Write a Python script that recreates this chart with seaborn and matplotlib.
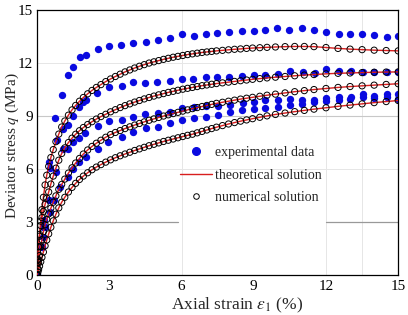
import numpy as np
import pandas as pd
import matplotlib
matplotlib.use("Agg")
import matplotlib.pyplot as plt
from matplotlib.lines import Line2D
import seaborn as sns

# ---------------- data ----------------
# experimental data (4 tests)
e1_x = [0, 0.2, 0.3, 0.51, 0.76, 1.02, 1.27, 1.51, 1.77, 2.04, 2.52, 3.0, 3.5, 4.0, 4.53, 5.04, 5.53, 6.01,
        6.52, 7.02, 7.49, 7.99, 8.53, 8.99, 9.47, 9.98, 10.48, 11.02, 11.5, 11.99, 12.52, 13.0, 13.51, 14.0, 14.53, 14.98]
e1_y = [0, 1.6, 3.1, 6.41, 8.87, 10.2, 11.3, 11.77, 12.34, 12.45, 12.8, 12.94, 13.0, 13.13, 13.22, 13.3, 13.41, 13.62,
        13.53, 13.66, 13.73, 13.77, 13.83, 13.83, 13.87, 13.96, 13.87, 13.96, 13.85, 13.75, 13.66, 13.62, 13.66, 13.57, 13.47, 13.53]

e2_x = [0, 0.26, 0.54, 0.82, 1.09, 1.3, 1.51, 1.75, 1.92, 2.04, 2.48, 3.0, 3.52, 4.0, 4.49, 5.0, 5.53, 6.01,
        6.49, 7.02, 7.49, 7.99, 8.5, 8.99, 9.47, 10.0, 10.51, 11.06, 11.55, 12.0, 12.52, 13.03, 13.53, 14.01, 14.53, 14.98]
e2_y = [0, 2.7, 6.04, 7.64, 8.24, 8.5, 9.0, 9.5, 9.8, 9.9, 10.28, 10.62, 10.7, 10.9, 10.88, 10.92, 11.0, 11.09,
        11.09, 11.19, 11.19, 11.22, 11.26, 11.32, 11.32, 11.4, 11.56, 11.47, 11.45, 11.64, 11.56, 11.56, 11.5, 11.5, 11.47, 11.5]

e3_x = [0, 0.26, 0.51, 0.79, 1.07, 1.27, 1.48, 1.76, 1.97, 2.52, 3.0, 3.52, 4.0, 4.5, 5.04, 5.53, 6.01, 6.52,
        7.02, 7.5, 8.02, 8.55, 9.0, 9.47, 10.0, 10.51, 11.0, 11.5, 12.0, 12.52, 13.03, 13.53, 14.0, 14.53, 14.98]
e3_y = [0, 2.17, 4.24, 5.85, 7.11, 7.11, 7.54, 7.74, 8.02, 8.43, 8.7, 8.77, 8.96, 9.1, 9.19, 9.24, 9.43, 9.49,
        9.56, 9.56, 9.62, 9.72, 9.81, 9.9, 9.9, 9.94, 9.9, 9.9, 10.0, 10.06, 10.09, 10.24, 10.15, 10.24, 10.24]

e4_x = [0, 0.2, 0.33, 0.54, 0.72, 0.93, 1.27, 1.5, 1.76, 2.03, 2.52, 2.96, 3.52, 4.0, 4.53, 5.04, 5.53, 6.01,
        6.52, 7.02, 7.53, 8.02, 8.53, 9.0, 9.47, 10.02, 10.5, 11.0, 11.5, 11.99, 12.52, 13.0, 13.53, 14.0, 14.53, 14.98]
e4_y = [0, 1.57, 2.7, 3.58, 4.24, 4.96, 5.53, 6.0, 6.41, 6.7, 7.15, 7.54, 7.83, 8.11, 8.3, 8.39, 8.58, 8.77,
        8.87, 8.96, 9.06, 9.24, 9.34, 9.38, 9.43, 9.49, 9.6, 9.7, 9.81, 9.86, 9.9, 9.95, 10.06, 10.0, 10.06, 9.94]

# strain values of theoretical / numerical solution
strain = [0, 0.03, 0.06, 0.1, 0.15, 0.2, 0.26, 0.33, 0.4, 0.48, 0.57, 0.67, 0.78, 0.9, 1.02, 1.15, 1.3, 1.45,
          1.6, 1.76, 1.92, 2.1, 2.28, 2.46, 2.65, 2.85, 3.05, 3.25, 3.45, 3.65, 3.85, 4.05, 4.25, 4.45, 4.65,
          4.85, 5.05, 5.25, 5.45, 5.65, 5.85, 6.05, 6.25, 6.45, 6.65, 6.85, 7.05, 7.25, 7.45, 7.7, 7.95, 8.2,
          8.45, 8.7, 8.95, 9.25, 9.55, 9.9, 10.3, 10.7, 11.1, 11.5, 12.0, 12.5, 13.0, 13.5, 14.0, 14.5, 15.0]

sol_a = [0, 0.9, 1.6, 2.3, 3.05, 3.7, 4.4, 5.1, 5.65, 6.15, 6.65, 7.1, 7.55, 7.98, 8.38, 8.72, 9.05, 9.35,
         9.6, 9.84, 10.05, 10.26, 10.45, 10.62, 10.78, 10.95, 11.1, 11.24, 11.37, 11.5, 11.61, 11.72, 11.82, 11.91, 12.0,
         12.07, 12.14, 12.21, 12.27, 12.33, 12.38, 12.43, 12.48, 12.52, 12.56, 12.6, 12.63, 12.66, 12.69, 12.72, 12.75, 12.78,
         12.8, 12.83, 12.85, 12.87, 12.89, 12.91, 12.93, 12.94, 12.94, 12.93, 12.88, 12.83, 12.79, 12.76, 12.73, 12.71, 12.69]

sol_b = [0, 0.85, 1.6, 2.2, 2.8, 3.25, 3.6, 4.0, 4.35, 4.7, 5.15, 5.6, 6.05, 6.5, 6.88, 7.2, 7.5, 7.75,
         7.97, 8.17, 8.35, 8.52, 8.68, 8.83, 8.97, 9.1, 9.24, 9.36, 9.48, 9.59, 9.69, 9.79, 9.88, 9.97, 10.05,
         10.13, 10.2, 10.27, 10.34, 10.4, 10.46, 10.52, 10.57, 10.62, 10.67, 10.72, 10.76, 10.8, 10.84, 10.88, 10.92, 10.96,
         11.0, 11.04, 11.08, 11.12, 11.16, 11.2, 11.24, 11.28, 11.32, 11.35, 11.39, 11.42, 11.44, 11.46, 11.48, 11.49, 11.5]

sol_c = [0, 0.35, 0.7, 1.1, 1.6, 2.0, 2.45, 2.85, 3.15, 3.46, 3.78, 4.12, 4.48, 4.85, 5.13, 5.43, 5.77, 6.07,
         6.34, 6.6, 6.85, 7.08, 7.28, 7.46, 7.63, 7.8, 7.95, 8.07, 8.18, 8.29, 8.39, 8.49, 8.58, 8.67, 8.76,
         8.84, 8.92, 9.0, 9.07, 9.14, 9.21, 9.28, 9.35, 9.42, 9.48, 9.54, 9.6, 9.66, 9.72, 9.78, 9.84, 9.9,
         9.96, 10.01, 10.06, 10.12, 10.18, 10.24, 10.31, 10.38, 10.44, 10.5, 10.56, 10.62, 10.67, 10.71, 10.75, 10.79, 10.83]

sol_d = [0, 0.15, 0.3, 0.5, 0.75, 1.0, 1.3, 1.65, 1.98, 2.33, 2.7, 3.07, 3.44, 3.8, 4.12, 4.4, 4.7, 4.96,
         5.19, 5.41, 5.6, 5.79, 5.96, 6.11, 6.25, 6.39, 6.52, 6.64, 6.75, 6.85, 6.95, 7.05, 7.14, 7.23, 7.32,
         7.4, 7.48, 7.56, 7.63, 7.7, 7.77, 7.84, 7.91, 7.97, 8.05, 8.13, 8.21, 8.29, 8.37, 8.46, 8.55, 8.63,
         8.71, 8.78, 8.85, 8.93, 9.01, 9.09, 9.17, 9.25, 9.32, 9.39, 9.47, 9.55, 9.62, 9.69, 9.76, 9.82, 9.88]

x_ticks = [0, 3, 6, 9, 12, 15]
y_ticks = [0, 3, 6, 9, 12, 15]
legend_labels = ["experimental data", "theoretical solution", "numerical solution"]

# ---------------- tables ----------------
exp_df = pd.concat([
    pd.DataFrame({"strain": x, "q": y, "test": i})
    for i, (x, y) in enumerate([(e1_x, e1_y), (e2_x, e2_y), (e3_x, e3_y), (e4_x, e4_y)])
], ignore_index=True)

sol_df = pd.concat([
    pd.DataFrame({"strain": strain, "q": s, "test": i})
    for i, s in enumerate([sol_a, sol_b, sol_c, sol_d])
], ignore_index=True)

# ---------------- style ----------------
sns.set_style("white")
plt.rcParams["font.family"] = ["Liberation Serif", "DejaVu Serif"]
plt.rcParams["mathtext.fontset"] = "stix"

BLUE = "#0a0ae0"
RED = "#d81e1e"

fig = plt.figure(figsize=(4.08, 3.15), dpi=100)
ax = fig.add_axes([0.091, 0.127, 0.885, 0.841])

# grid-like lines
for v in [6, 12]:
    ax.axhline(v, color="#e6e6e6", lw=0.7, zorder=0)
for v in [6, 12, 13.5]:
    ax.axvline(v, color="#e6e6e6", lw=0.7, zorder=0)
ax.axhline(9, color="#c8c8c8", lw=0.8, zorder=0)
ax.axhline(3, xmin=0.04, xmax=0.39, color="#999999", lw=0.9, zorder=0)
ax.axhline(3, xmin=0.8, xmax=1.0, color="#999999", lw=0.9, zorder=0)

sns.scatterplot(data=exp_df, x="strain", y="q", color=BLUE, s=28, linewidth=0,
                ax=ax, zorder=2, legend=False)
sns.lineplot(data=sol_df, x="strain", y="q", units="test", estimator=None, sort=False,
             color=RED, lw=1.0, ax=ax, zorder=3, legend=False)
sns.scatterplot(data=sol_df, x="strain", y="q", marker="o", facecolor="none",
                edgecolor="black", linewidth=0.7, s=20, ax=ax, zorder=4, legend=False)

ax.set_xlim(0, 15)
ax.set_ylim(0, 15)
ax.set_xticks(x_ticks)
ax.set_yticks(y_ticks)
ax.set_xticks([1.5, 4.5, 7.5, 10.5, 13.5], minor=True)
ax.set_yticks([1.5, 4.5, 7.5, 10.5, 13.5], minor=True)
ax.tick_params(axis="both", which="both", direction="in", top=False, right=False,
               labelsize=11, colors="black")
ax.tick_params(axis="y", which="major", pad=3)
ax.tick_params(which="major", length=4, width=0.8)
ax.tick_params(which="minor", length=2.5, width=0.7)
for sp in ax.spines.values():
    sp.set_color("black")
    sp.set_linewidth(0.9)

ax.set_xlabel(r"Axial strain $\varepsilon_1$ (%)", fontsize=12.5)
ax.set_ylabel(r"Deviator stress $q$ (MPa)", fontsize=11)
ax.xaxis.set_label_coords(0.554, -0.078)
ax.yaxis.set_label_coords(-0.046, 0.49)

handles = [
    Line2D([], [], ls="", marker="o", color=BLUE, markersize=5.5),
    Line2D([], [], ls="-", color=RED, lw=1.0),
    Line2D([], [], ls="", marker="o", mfc="none", mec="black", mew=0.7, markersize=4),
]
ax.legend(handles, legend_labels, loc="center left", bbox_to_anchor=(0.37, 0.377),
          frameon=False, fontsize=10, handlelength=2.3, handletextpad=0.2,
          labelspacing=0.7, borderpad=0.2)

fig.savefig("out.png", dpi=100)
